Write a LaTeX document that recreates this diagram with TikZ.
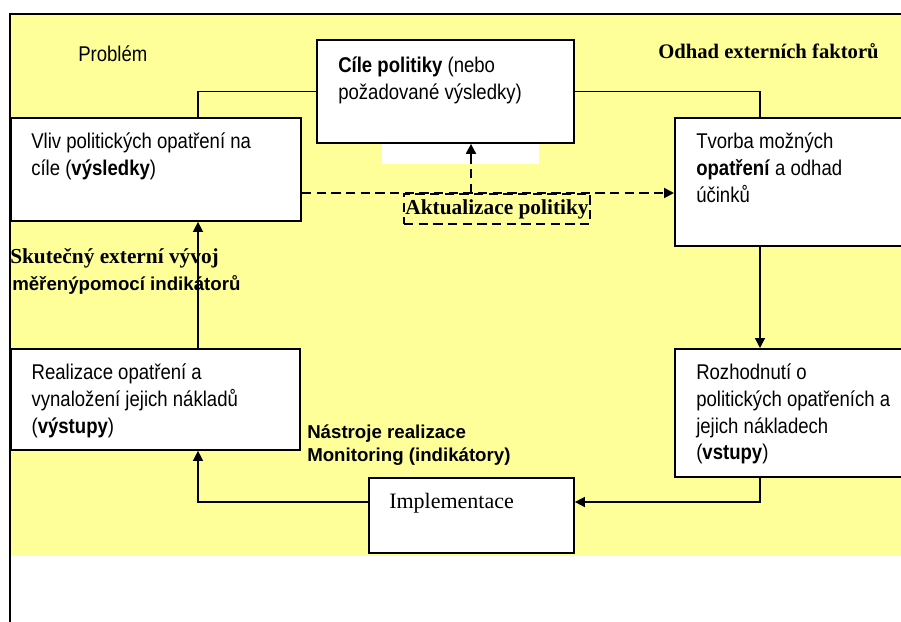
\documentclass[tikz,border=0pt]{standalone}
\usepackage{fontspec}
\setmainfont{Liberation Serif}
\setsansfont{Liberation Sans}
\newfontfamily\boxfont[FakeStretch=0.87]{Liberation Sans}
\usetikzlibrary{arrows.meta, positioning}
\definecolor{paleyellow}{RGB}{255,255,153}

\begin{document}
\begin{tikzpicture}[x=0.75pt, y=-0.75pt, >={Triangle[length=7.5pt,width=7.5pt]},
    box/.style={draw, line width=1.4pt, fill=white, anchor=north west, inner sep=0pt},
    boxtext/.style={anchor=north west, inner sep=0pt, align=left, font=\boxfont\fontsize{16pt}{20pt}\selectfont},
    freetext/.style={anchor=base west, inner sep=0pt},
    link/.style={line width=1.1pt},
    dashlink/.style={line width=1.5pt, dash pattern=on 7pt off 4pt}]
  \clip (0,0) rectangle (901,622);
  \fill[white] (0,0) rectangle (901,622);
  \fill[paleyellow] (10,14) rectangle (901,556);
  \draw[line width=1.5pt] (10,622) -- (10,14) -- (901,14);
  \fill[white] (382,142) rectangle (539,164);

  % columns and rows of the connectors
  \coordinate (leftcol) at (198,0);
  \coordinate (rightcol) at (760,0);
  \coordinate (midcol) at (471,0);
  \coordinate (dashrow) at (0,193);
  \coordinate (lowrow) at (0,502);

  % boxes
  \node[box, minimum width=192.75pt, minimum height=77.25pt] (cile) at (316,39) {};
  \node[box, minimum width=217.5pt, minimum height=77.25pt] (vliv) at (10,117) {};
  \node[box, minimum width=180pt, minimum height=96pt] (tvorba) at (674,117) {};
  \node[box, minimum width=216.75pt, minimum height=75.75pt] (realizace) at (10,348) {};
  \node[box, minimum width=180pt, minimum height=96pt] (rozh) at (674,348) {};
  \node[box, minimum width=153.75pt, minimum height=56.25pt] (impl) at (368,477) {};

  \node[boxtext, below right=13.5pt and 16.5pt of cile.north west] (ciletext) {\textbf{Cíle politiky} (nebo\\požadované výsledky)};
  \node[boxtext, below right=12pt and 15.75pt of vliv.north west] (vlivtext) {Vliv politických opatření na\\cíle (\textbf{výsledky})};
  \node[boxtext, below right=12pt and 16.5pt of tvorba.north west] (tvorbatext) {Tvorba možných\\\textbf{opatření} a odhad\\účinků};
  \node[boxtext, below right=12pt and 16pt of realizace.north west] (realizacetext) {Realizace opatření a\\vynaložení jejich nákladů\\(\textbf{výstupy})};
  \node[boxtext, below right=12pt and 16.5pt of rozh.north west] (rozhtext) {Rozhodnutí o\\politických opatřeních a\\jejich nákladech\\(\textbf{vstupy})};
  \node[boxtext, font=\fontsize{16.5pt}{20pt}\selectfont, below right=12pt and 15.75pt of impl.north west] (impltext) {Implementace};

  % free texts
  \node[freetext, font=\boxfont\fontsize{16pt}{20pt}\selectfont] (problem) at (78,61) {Problém};
  \node[freetext, font=\bfseries\fontsize{15.5pt}{18pt}\selectfont] (odhad) at (658,58) {Odhad externích faktorů};
  \node[freetext, font=\bfseries\fontsize{16pt}{19pt}\selectfont] (skutecny) at (10,263) {Skutečný externí vývoj};
  \node[freetext, font=\sffamily\bfseries\fontsize{14pt}{17pt}\selectfont] (merene) at (12,290) {měřenýpomocí indikátorů};
  \node[anchor=north west, inner sep=0pt, align=left, font=\sffamily\bfseries\fontsize{14pt}{17.25pt}\selectfont] (nastroje) at (307,425) {Nástroje realizace\\Monitoring (indikátory)};

  % connectors
  \draw[link] (cile.west) -| (leftcol |- vliv.north);
  \draw[link] (cile.east) -| (rightcol |- tvorba.north);
  \draw[link, ->] (rightcol |- tvorba.south) -- (rightcol |- rozh.north);
  \draw[link, ->] (rightcol |- rozh.south) |- (impl.east |- lowrow);
  \draw[link, ->] (impl.west |- lowrow) -| (leftcol |- realizace.south);
  \draw[link, ->] (leftcol |- realizace.north) -- (leftcol |- vliv.south);

  % policy update
  \node[draw, dashlink, anchor=north west, minimum width=139.5pt, minimum height=22.5pt, inner sep=1pt,
    font=\bfseries\fontsize{16pt}{19pt}\selectfont] (aktual) at (403,193) {Aktualizace politiky};
  \draw[dashlink, ->] (vliv.east |- dashrow) -- (tvorba.west |- dashrow);
  \draw[dashlink, ->] (midcol |- dashrow) -- (midcol |- cile.south);
\end{tikzpicture}
\end{document}
